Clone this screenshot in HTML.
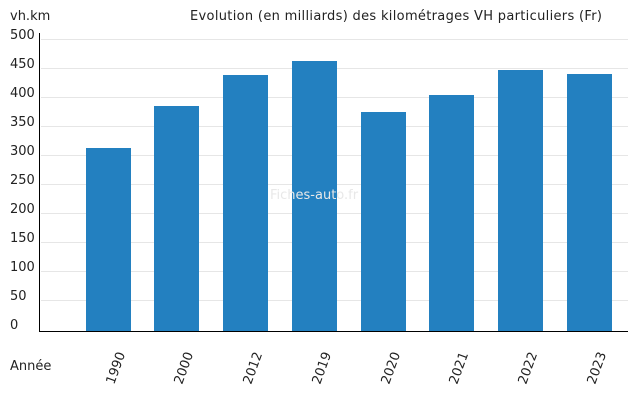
<!DOCTYPE html>
<html><head><meta charset="utf-8"><style>
body{margin:0;background:#fff;}
svg text{font-family:"DejaVu Sans","Liberation Sans",sans-serif;font-size:13px;fill:#222;}
</style></head><body>
<svg width="640" height="400" xmlns="http://www.w3.org/2000/svg">
<g stroke="#e6e6e6" stroke-width="1">
<line x1="41" x2="628" y1="39.5" y2="39.5"/>
<line x1="41" x2="628" y1="68.5" y2="68.5"/>
<line x1="41" x2="628" y1="97.5" y2="97.5"/>
<line x1="41" x2="628" y1="126.5" y2="126.5"/>
<line x1="41" x2="628" y1="155.5" y2="155.5"/>
<line x1="41" x2="628" y1="184.5" y2="184.5"/>
<line x1="41" x2="628" y1="213.5" y2="213.5"/>
<line x1="41" x2="628" y1="242.5" y2="242.5"/>
<line x1="41" x2="628" y1="271.5" y2="271.5"/>
<line x1="41" x2="628" y1="300.5" y2="300.5"/>
</g>
<g fill="#2380c0">
<rect x="86" y="148" width="45" height="183"/>
<rect x="154" y="106" width="45" height="225"/>
<rect x="223" y="75" width="45" height="256"/>
<rect x="292" y="61" width="45" height="270"/>
<rect x="361" y="112" width="45" height="219"/>
<rect x="429" y="95" width="45" height="236"/>
<rect x="498" y="70" width="45" height="261"/>
<rect x="567" y="74" width="45" height="257"/>
</g>
<line x1="39.5" y1="33" x2="39.5" y2="331" stroke="#000"/>
<line x1="39" x2="628" y1="331.5" y2="331.5" stroke="#000"/>
<text x="10" y="20">vh.km</text>
<text x="190" y="20" textLength="412" lengthAdjust="spacing">Evolution (en milliards) des kilométrages VH particuliers (Fr)</text>
<text x="10" y="39">500</text>
<text x="10" y="68">450</text>
<text x="10" y="97">400</text>
<text x="10" y="126">350</text>
<text x="10" y="155">300</text>
<text x="10" y="184">250</text>
<text x="10" y="213">200</text>
<text x="10" y="242">150</text>
<text x="10" y="271">100</text>
<text x="10" y="300">50</text>
<text x="10" y="329">0</text>
<text x="10" y="370">Année</text>
<text x="270" y="199" style="fill:#e8e8e8">Fiches-auto.fr</text>
<g>
<text transform="translate(114,385) rotate(-70)">1990</text>
<text transform="translate(182,385) rotate(-70)">2000</text>
<text transform="translate(251,385) rotate(-70)">2012</text>
<text transform="translate(320,385) rotate(-70)">2019</text>
<text transform="translate(389,385) rotate(-70)">2020</text>
<text transform="translate(457,385) rotate(-70)">2021</text>
<text transform="translate(526,385) rotate(-70)">2022</text>
<text transform="translate(595,385) rotate(-70)">2023</text>
</g>
</svg>
</body></html>
